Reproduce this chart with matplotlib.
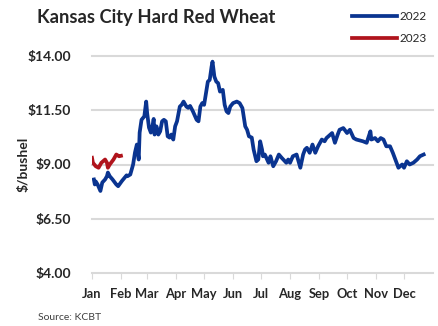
import matplotlib
matplotlib.use("Agg")
import matplotlib.pyplot as plt
from matplotlib.lines import Line2D
import pandas as pd

# Day of year (0 = Jan 1) and price in $/bushel
days_2022 = [2, 3, 4, 6, 9, 11, 14, 16, 17, 19, 22, 26, 28, 32, 35, 37, 38, 41, 44,
             46, 48, 50, 51, 53, 56, 58, 59, 61, 63, 65, 66, 67, 69, 71, 73, 75, 77,
             79, 81, 83, 85, 87, 89, 91, 94, 96, 98, 101, 103, 105, 108, 112, 114,
             116, 118, 120, 123, 124, 126, 128, 129, 131, 133, 135, 137, 140, 142,
             144, 146, 148, 151, 155, 158, 161, 164, 166, 168, 171, 173, 176, 178,
             180, 182, 183, 185, 189, 191, 194, 197, 200, 203, 208, 210, 212, 215,
             219, 223, 226, 228, 230, 233, 236, 239, 242, 246, 249, 251, 257, 260,
             263, 265, 269, 273, 276, 280, 283, 290, 294, 298, 299, 303, 306, 309,
             312, 315, 319, 322, 324, 328, 332, 334, 337, 340, 344, 348, 351, 355]
price_2022 = [8.31, 8.08, 8.22, 8.08, 7.78, 8.17, 8.31, 8.46, 8.63, 8.46, 8.31, 8.08,
              8.00, 8.24, 8.40, 8.50, 8.46, 8.54, 9.00, 9.55, 9.92, 9.23, 10.47, 11.06,
              11.22, 11.90, 11.38, 10.70, 10.47, 10.84, 11.10, 10.38, 10.76, 10.38,
              10.53, 10.99, 11.06, 10.99, 10.30, 10.24, 10.38, 10.15, 10.76, 10.99,
              11.67, 11.75, 11.90, 11.67, 11.61, 11.70, 11.45, 11.06, 10.99, 11.67,
              11.83, 11.75, 12.53, 12.82, 12.90, 13.51, 13.74, 13.05, 12.82, 12.75,
              12.36, 12.44, 11.75, 11.45, 11.37, 11.67, 11.83, 11.90, 11.83, 11.60,
              10.76, 10.60, 10.30, 10.24, 9.69, 9.15, 9.23, 10.07, 9.69, 9.38, 9.46,
              9.08, 9.38, 8.92, 9.15, 9.46, 9.31, 9.08, 9.23, 9.08, 9.38, 9.46, 8.85,
              9.46, 9.69, 9.77, 9.54, 9.92, 9.54, 9.84, 10.15, 10.07, 10.22, 10.45,
              10.00, 10.38, 10.60, 10.68, 10.45, 10.60, 10.22, 10.15, 10.07, 10.00,
              10.53, 10.15, 10.22, 10.07, 10.22, 10.15, 9.84, 9.84, 9.54, 9.31, 8.85,
              9.00, 8.85, 9.15, 9.00, 9.08, 9.23, 9.38, 9.46]

days_2023 = [0, 1, 4, 7, 10, 14, 16, 17, 19, 23, 26, 29, 31]
price_2023 = [9.31, 9.08, 8.92, 8.85, 9.08, 9.23, 9.08, 8.85, 9.00, 9.23, 9.46, 9.38, 9.40]

month_labels = ["Jan", "Feb", "Mar", "Apr", "May", "Jun",
                "Jul", "Aug", "Sep", "Oct", "Nov", "Dec"]
y_ticks = [4.0, 6.5, 9.0, 11.5, 14.0]

BLUE = "#0a3490"
RED = "#b0141c"
TEXT = "#262626"
GRID = "#d9d9d9"
FONT = "Lato"
LW = 2.7

fig = plt.figure(figsize=(4.38, 3.26), dpi=100)
ax = fig.add_axes([92 / 438, 1 - 273 / 326, (433 - 92) / 438, (273 - 56) / 326])

ax.plot(days_2022, price_2022, color=BLUE, lw=LW, solid_joinstyle="round", zorder=3)
ax.plot(days_2023, price_2023, color=RED, lw=LW, solid_joinstyle="round", zorder=4)

ax.set_xlim(0, 365)
ax.set_ylim(4.0, 14.0)

month_starts = pd.date_range("2022-01-01", periods=12, freq="MS").dayofyear - 1
ax.set_xticks(month_starts)
ax.set_xticklabels(month_labels, fontfamily=FONT, fontweight="bold", fontsize=9.3, color=TEXT)
ax.set_yticks(y_ticks)
ax.set_yticklabels([f"${v:.2f}" for v in y_ticks], fontfamily=FONT,
                   fontweight="bold", fontsize=10, color=TEXT)

ax.tick_params(axis="x", length=4, width=0.8, color=GRID, pad=7)
ax.tick_params(axis="y", length=0, pad=15)

for s in ["top", "right", "left"]:
    ax.spines[s].set_visible(False)
ax.spines["bottom"].set_color(GRID)
ax.spines["bottom"].set_linewidth(1.5)

for v in y_ticks[1:]:
    ax.axhline(v, color=GRID, lw=1.5, zorder=1, clip_on=False)

ax.set_ylabel("$/bushel", fontfamily=FONT, fontweight="bold", fontsize=10,
              color=TEXT)
ax.yaxis.set_label_coords(-62 / 341, 0.5)

fig.text(37 / 438, 1 - 17 / 326, "Kansas City Hard Red Wheat", fontfamily=FONT,
         fontweight="bold", fontsize=13.2, color=TEXT, va="center", ha="left")
fig.text(38 / 438, 1 - 318 / 326, "Source: KCBT", fontfamily=FONT,
         fontsize=7.5, color="#404040", va="center", ha="left")

# Legend entries drawn in figure coordinates
for yy, col, lab in [(16, BLUE, "2022"), (38, RED, "2023")]:
    fig.add_artist(Line2D([352 / 438, 397 / 438], [1 - yy / 326] * 2,
                          color=col, lw=LW, transform=fig.transFigure))
    fig.text(400 / 438, 1 - yy / 326, lab, fontfamily=FONT, fontsize=8.5,
             color=TEXT, va="center", ha="left")

fig.savefig("out.png", dpi=100)
